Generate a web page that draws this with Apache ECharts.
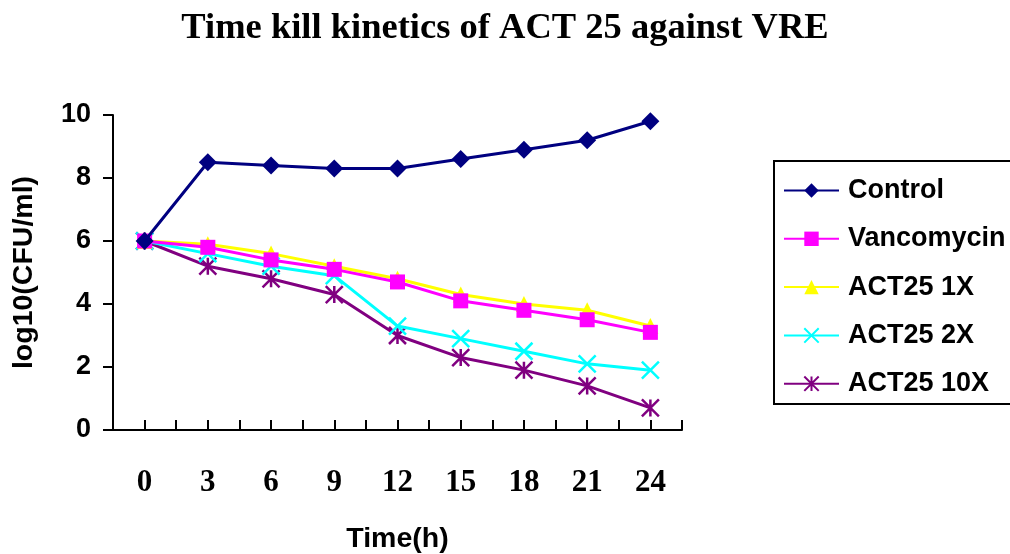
<!DOCTYPE html>
<html>
<head>
<meta charset="utf-8">
<script src="https://cdn.jsdelivr.net/npm/echarts@6/dist/echarts.min.js"></script>
<style>
  html, body { margin: 0; padding: 0; background: #fff; }
  #chart { width: 1010px; height: 554px; }
</style>
</head>
<body>
<div id="chart"></div>
<script>
// time points (h)
const hours = [0, 3, 6, 9, 12, 15, 18, 21, 24];

const seriesNames = ['Control', 'Vancomycin', 'ACT25 1X', 'ACT25 2X', 'ACT25 10X'];
const control = [6, 8.5, 8.4, 8.3, 8.3, 8.6, 8.9, 9.2, 9.8];
const vancomycin = [6, 5.8, 5.4, 5.1, 4.7, 4.1, 3.8, 3.5, 3.1];
const act1x = [6, 5.9, 5.6, 5.2, 4.8, 4.3, 4.0, 3.8, 3.3];
const act2x = [6, 5.6, 5.2, 4.9, 3.3, 2.9, 2.5, 2.1, 1.9];
const act10x = [6, 5.2, 4.8, 4.3, 3.0, 2.3, 1.9, 1.4, 0.7];

const colors = ['#000080', '#ff00ff', '#ffff00', '#00ffff', '#800080'];
const symbols = [
  'diamond',
  'rect',
  'triangle',
  'path://M0,0L10,10M10,0L0,10',
  'path://M5,0L5,10M0,0L10,10M10,0L0,10'
];
const symbolSizes = [18, 15, 16, 17, 17];
const values = [control, vancomycin, act1x, act2x, act10x];

const pair = (arr) => arr.map((v, i) => [hours[i], v]);

const chart = echarts.init(document.getElementById('chart'));

const series = seriesNames.map((name, k) => {
  const stroked = k >= 3;
  return {
    name: name,
    type: 'line',
    data: pair(values[k]),
    symbol: symbols[k],
    symbolSize: symbolSizes[k],
    showSymbol: true,
    lineStyle: { color: colors[k], width: 3 },
    itemStyle: stroked
      ? { color: colors[k], borderColor: colors[k], borderWidth: 2.5 }
      : { color: colors[k], borderWidth: 0 },
    z: 10 - k
  };
});

chart.setOption({
  animation: false,
  backgroundColor: '#fff',
  title: {
    text: 'Time kill kinetics of ACT 25 against VRE',
    left: 'center',
    top: 5,
    textStyle: {
      fontFamily: 'Liberation Serif',
      fontWeight: 'bold',
      fontSize: 36.5,
      color: '#000'
    }
  },
  grid: { left: 113, right: 328, top: 115, bottom: 124, outerBoundsMode: 'none' },
  legend: {
    orient: 'vertical',
    left: 783,
    top: 177,
    padding: 0,
    itemWidth: 55,
    itemHeight: 18,
    itemGap: 21.3,
    data: seriesNames,
    textStyle: {
      fontFamily: 'Liberation Sans',
      fontWeight: 'bold',
      fontSize: 27,
      color: '#000',
      padding: [0, 0, 0, 4]
    }
  },
  graphic: [{
    type: 'rect',
    shape: { x: 774, y: 161, width: 260, height: 243 },
    style: { fill: 'none', stroke: '#000', lineWidth: 2 },
    silent: true
  }],
  xAxis: {
    type: 'value',
    min: -1.5,
    max: 25.5,
    interval: 1.5,
    name: 'Time(h)',
    nameLocation: 'middle',
    nameGap: 95,
    nameTextStyle: {
      fontFamily: 'Liberation Sans',
      fontWeight: 'bold',
      fontSize: 28.5,
      color: '#000'
    },
    axisLine: { onZero: false, lineStyle: { color: '#000', width: 2 } },
    axisTick: { inside: true, length: 10, lineStyle: { color: '#000', width: 2 } },
    splitLine: { show: false },
    axisLabel: {
      margin: 37,
      fontFamily: 'Liberation Serif',
      fontWeight: 'bold',
      fontSize: 31,
      color: '#000',
      formatter: (v) => (v >= 0 && v <= 24 && v % 3 === 0 ? String(v) : '')
    }
  },
  yAxis: {
    type: 'value',
    min: 0,
    max: 10,
    interval: 2,
    name: 'log10(CFU/ml)',
    nameLocation: 'middle',
    nameGap: 74,
    nameRotate: 90,
    nameTextStyle: {
      fontFamily: 'Liberation Sans',
      fontWeight: 'bold',
      fontSize: 28.5,
      color: '#000'
    },
    axisLine: { show: true, onZero: false, lineStyle: { color: '#000', width: 2 } },
    axisTick: { show: true, length: 10, lineStyle: { color: '#000', width: 2 } },
    splitLine: { show: false },
    axisLabel: {
      margin: 22,
      fontFamily: 'Liberation Sans',
      fontWeight: 'bold',
      fontSize: 27,
      color: '#000'
    }
  },
  series: series
});
</script>
</body>
</html>
